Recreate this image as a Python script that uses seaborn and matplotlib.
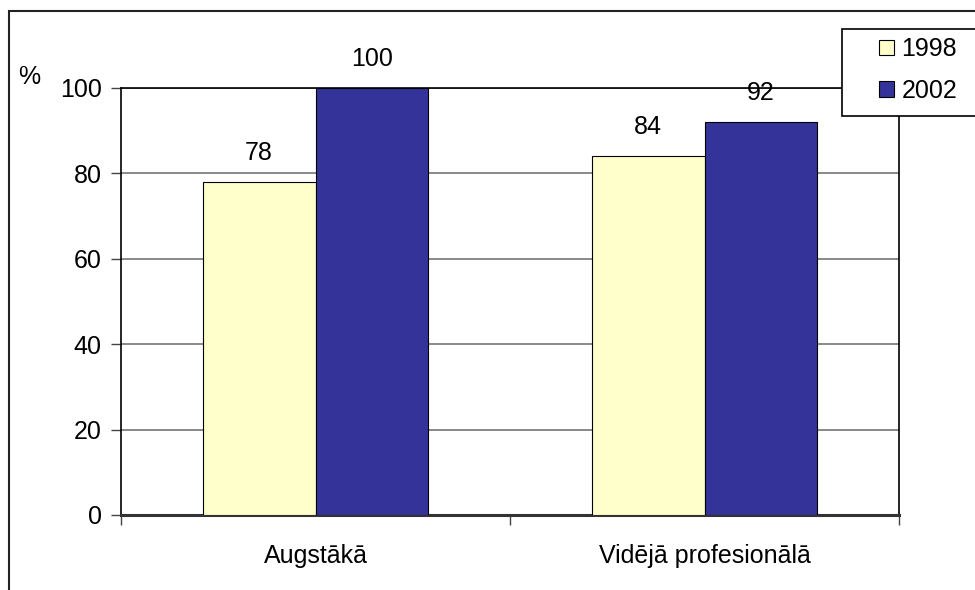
import pandas as pd
import matplotlib.pyplot as plt
import seaborn as sns
from matplotlib.patches import Rectangle, Patch
from matplotlib.ticker import FixedLocator

categories = ['Augstākā', 'Vidējā profesionālā']
years = ['1998', '2002']
values_1998 = [78, 84]
values_2002 = [100, 92]
colors = ['#FFFFCC', '#333399']

df = pd.DataFrame({
    'Category': categories * 2,
    'Year': [years[0]] * 2 + [years[1]] * 2,
    'Value': values_1998 + values_2002,
})

sns.set_style('white')
plt.rcParams['font.family'] = ['Liberation Sans', 'DejaVu Sans']
plt.rcParams['text.color'] = 'black'
plt.rcParams['xtick.labelcolor'] = 'black'
plt.rcParams['ytick.labelcolor'] = 'black'

fig = plt.figure(figsize=(9.75, 5.9), dpi=100)
ax = fig.add_axes([121 / 975, 1 - 515 / 590, 778 / 975, 427 / 590])

sns.barplot(data=df, x='Category', y='Value', hue='Year', order=categories,
            hue_order=years, palette=colors, saturation=1, width=0.58,
            edgecolor='black', linewidth=0.8, ax=ax, legend=False, zorder=3)

ax.set_ylim(0, 100)
ax.set_xlim(-0.5, 1.5)
ax.set_yticks([0, 20, 40, 60, 80, 100])
ax.yaxis.grid(True, color='#808080', linewidth=1.3, zorder=0)
ax.set_axisbelow(True)
ax.set_xlabel('')
ax.set_ylabel('')

ax.tick_params(axis='y', labelsize=18, length=7, width=1, color='#444444',
               pad=7, left=True, direction='out')
ax.tick_params(axis='x', which='major', labelsize=18, length=0, pad=21)
ax.xaxis.set_minor_locator(FixedLocator([-0.5, 0.5, 1.5]))
ax.tick_params(axis='x', which='minor', length=7, width=1, color='#444444',
               bottom=True, direction='out')

for side in ['left', 'right', 'top']:
    ax.spines[side].set_color('black')
    ax.spines[side].set_linewidth(1.2)
ax.spines['bottom'].set_color('#333333')
ax.spines['bottom'].set_linewidth(2.2)

for container in ax.containers:
    for bar in container:
        h = bar.get_height()
        ax.annotate(f'{h:.0f}', (bar.get_x() + bar.get_width() / 2, h),
                    xytext=(0, 21), textcoords='offset points',
                    ha='center', va='center', fontsize=18, zorder=5,
                    annotation_clip=False)

fig.text(29 / 975, 1 - 77 / 590, '%', fontsize=18, ha='center', va='center')

# outer chart frame, cut by the picture edge
fig.add_artist(Rectangle((9 / 975, -0.2), 1.2, 1.2 - 11 / 590,
                         transform=fig.transFigure, fill=False,
                         edgecolor='#222222', linewidth=1.5))

# legend box
fig.add_artist(Rectangle((842 / 975, 1 - 116 / 590), 0.3, 87 / 590,
                         transform=fig.transFigure, facecolor='white',
                         edgecolor='black', linewidth=1.2, zorder=10))
handles = [Patch(facecolor=c, edgecolor='black', linewidth=0.8) for c in colors]
leg = fig.legend(handles, years, loc='center left',
                 bbox_to_anchor=(879 / 975, 1 - 70 / 590), frameon=False,
                 fontsize=18, handlelength=0.6, handleheight=0.6,
                 handletextpad=0.3, labelspacing=0.7, borderpad=0,
                 borderaxespad=0)
leg.set_zorder(11)

fig.savefig('out.png', dpi=100)
